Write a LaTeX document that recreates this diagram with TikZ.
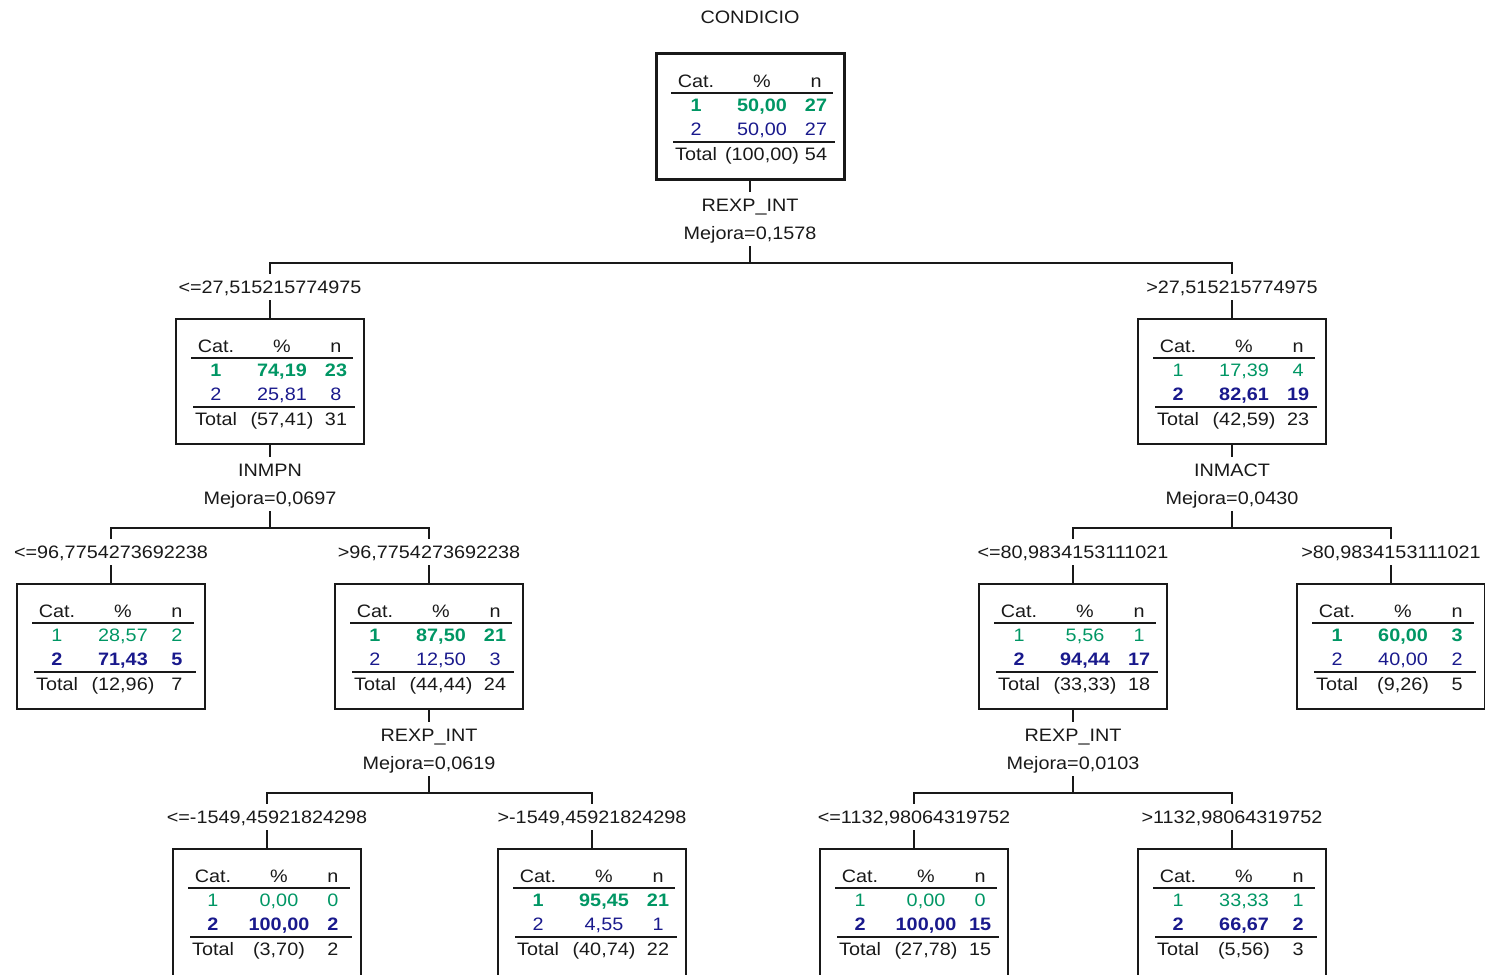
\documentclass[tikz,border=0pt]{standalone}
\usepackage{fontspec}
\setmainfont{Liberation Sans}[FakeStretch=1.1]
\usetikzlibrary{calc}

\definecolor{catgreen}{RGB}{0,150,100}
\definecolor{catblue}{RGB}{25,25,140}
\definecolor{ink}{RGB}{25,25,25}

\tikzset{
  treebox/.style={draw=ink, line width=1.3pt, minimum width=188pt, minimum height=125pt,
                  anchor=north, inner sep=0pt, outer sep=0pt},
  rootbox/.style={treebox, line width=3pt},
  % tables of the lowest row run on past the lower edge of the page
  leafbox/.style={treebox, minimum height=140pt},
  cell/.style={inner sep=0pt, text height=13pt, text depth=0pt, anchor=center, text=ink},
  lab/.style={inner xsep=2pt, inner ysep=6.5pt, text height=13pt, text depth=0pt, text=ink},
  link/.style={draw=ink, line width=1.3pt},
  rule/.style={draw=ink, line width=1.3pt},
}

% frame and header of a category table: name, centre x, top y, frame style
\newcommand{\catbox}[4]{%
  \node[#4] (#1) at (#2,#3) {};
  \node[cell] (#1-hc) at ($(#1.north west)+(40,27)$) {Cat.};
  \node[cell] (#1-hp) at ($(#1.north west)+(106,27)$) {\%};
  \node[cell] (#1-hn) at ($(#1.north west)+(160,27)$) {n};
  \draw[rule] ($(#1.north west)+(15,39)$) -- ($(#1.north west)+(177,39)$);
  \draw[rule] ($(#1.north west)+(17,88)$) -- ($(#1.north west)+(179,88)$);
}

% rows of a category table: name, modal row, pct 1, n 1, pct 2, n 2, pct total, n total
\newcommand{\catrows}[8]{%
  \ifnum#2=1 \def\rowAfont{\bfseries}\def\rowBfont{\mdseries}%
  \else \def\rowAfont{\mdseries}\def\rowBfont{\bfseries}\fi
  \node[cell,text=catgreen,font=\rowAfont] (#1-a1) at ($(#1.north west)+(40,51)$) {1};
  \node[cell,text=catgreen,font=\rowAfont] (#1-a2) at ($(#1.north west)+(106,51)$) {#3};
  \node[cell,text=catgreen,font=\rowAfont] (#1-a3) at ($(#1.north west)+(160,51)$) {#4};
  \node[cell,text=catblue,font=\rowBfont] (#1-b1) at ($(#1.north west)+(40,75)$) {2};
  \node[cell,text=catblue,font=\rowBfont] (#1-b2) at ($(#1.north west)+(106,75)$) {#5};
  \node[cell,text=catblue,font=\rowBfont] (#1-b3) at ($(#1.north west)+(160,75)$) {#6};
  \node[cell] (#1-t1) at ($(#1.north west)+(40,100)$) {Total};
  \node[cell] (#1-t2) at ($(#1.north west)+(106,100)$) {#7};
  \node[cell] (#1-t3) at ($(#1.north west)+(160,100)$) {#8};
}

\begin{document}
\fontsize{18}{21.6}\selectfont
\begin{tikzpicture}[x=1pt, y=-1pt]
\useasboundingbox (0,0) rectangle (1485,974);

\node[lab] (title) at (750,17) {CONDICIO};

% ---- nodes ----
\catbox{root}{750}{54}{rootbox}
\catrows{root}{1}{50,00}{27}{50,00}{27}{(100,00)}{54}

\catbox{nA}{270}{319}{treebox}
\catrows{nA}{1}{74,19}{23}{25,81}{8}{(57,41)}{31}
\catbox{nB}{1232}{319}{treebox}
\catrows{nB}{2}{17,39}{4}{82,61}{19}{(42,59)}{23}

\catbox{nAA}{111}{584}{treebox}
\catrows{nAA}{2}{28,57}{2}{71,43}{5}{(12,96)}{7}
\catbox{nAB}{429}{584}{treebox}
\catrows{nAB}{1}{87,50}{21}{12,50}{3}{(44,44)}{24}
\catbox{nBA}{1073}{584}{treebox}
\catrows{nBA}{2}{5,56}{1}{94,44}{17}{(33,33)}{18}
\catbox{nBB}{1391}{584}{treebox}
\catrows{nBB}{1}{60,00}{3}{40,00}{2}{(9,26)}{5}

\catbox{nABA}{267}{849}{leafbox}
\catrows{nABA}{2}{0,00}{0}{100,00}{2}{(3,70)}{2}
\catbox{nABB}{592}{849}{leafbox}
\catrows{nABB}{1}{95,45}{21}{4,55}{1}{(40,74)}{22}
\catbox{nBAA}{914}{849}{leafbox}
\catrows{nBAA}{2}{0,00}{0}{100,00}{15}{(27,78)}{15}
\catbox{nBAB}{1232}{849}{leafbox}
\catrows{nBAB}{2}{33,33}{1}{66,67}{2}{(5,56)}{3}

% ---- split of the root ----
\node[lab] (v0) at (750,205) {REXP\_INT};
\node[lab] (m0) at (750,233) {Mejora=0,1578};
\coordinate (b0) at (750,263);
\node[lab] (sA) at (270,287) {<=27,515215774975};
\node[lab] (sB) at (1232,287) {>27,515215774975};
\draw[link] (root.south) -- (v0.north);
\draw[link] (m0.south) -- (b0);
\draw[link] (sA.north) |- (b0) -| (sB.north);
\draw[link] (sA.south) -- (nA.north);
\draw[link] (sB.south) -- (nB.north);

% ---- split of nA ----
\node[lab] (vA) at (270,470) {INMPN};
\node[lab] (mA) at (270,498) {Mejora=0,0697};
\coordinate (bA) at (270,528);
\node[lab] (sAA) at (111,552) {<=96,7754273692238};
\node[lab] (sAB) at (429,552) {>96,7754273692238};
\draw[link] (nA.south) -- (vA.north);
\draw[link] (mA.south) -- (bA);
\draw[link] (sAA.north) |- (bA) -| (sAB.north);
\draw[link] (sAA.south) -- (nAA.north);
\draw[link] (sAB.south) -- (nAB.north);

% ---- split of nB ----
\node[lab] (vB) at (1232,470) {INMACT};
\node[lab] (mB) at (1232,498) {Mejora=0,0430};
\coordinate (bB) at (1232,528);
\node[lab] (sBA) at (1073,552) {<=80,9834153111021};
\node[lab] (sBB) at (1391,552) {>80,9834153111021};
\draw[link] (nB.south) -- (vB.north);
\draw[link] (mB.south) -- (bB);
\draw[link] (sBA.north) |- (bB) -| (sBB.north);
\draw[link] (sBA.south) -- (nBA.north);
\draw[link] (sBB.south) -- (nBB.north);

% ---- split of nAB ----
\node[lab] (vAB) at (429,735) {REXP\_INT};
\node[lab] (mAB) at (429,763) {Mejora=0,0619};
\coordinate (bAB) at (429,793);
\node[lab] (sABA) at (267,817) {<=-1549,45921824298};
\node[lab] (sABB) at (592,817) {>-1549,45921824298};
\draw[link] (nAB.south) -- (vAB.north);
\draw[link] (mAB.south) -- (bAB);
\draw[link] (sABA.north) |- (bAB) -| (sABB.north);
\draw[link] (sABA.south) -- (nABA.north);
\draw[link] (sABB.south) -- (nABB.north);

% ---- split of nBA ----
\node[lab] (vBA) at (1073,735) {REXP\_INT};
\node[lab] (mBA) at (1073,763) {Mejora=0,0103};
\coordinate (bBA) at (1073,793);
\node[lab] (sBAA) at (914,817) {<=1132,98064319752};
\node[lab] (sBAB) at (1232,817) {>1132,98064319752};
\draw[link] (nBA.south) -- (vBA.north);
\draw[link] (mBA.south) -- (bBA);
\draw[link] (sBAA.north) |- (bBA) -| (sBAB.north);
\draw[link] (sBAA.south) -- (nBAA.north);
\draw[link] (sBAB.south) -- (nBAB.north);
\end{tikzpicture}
\end{document}
